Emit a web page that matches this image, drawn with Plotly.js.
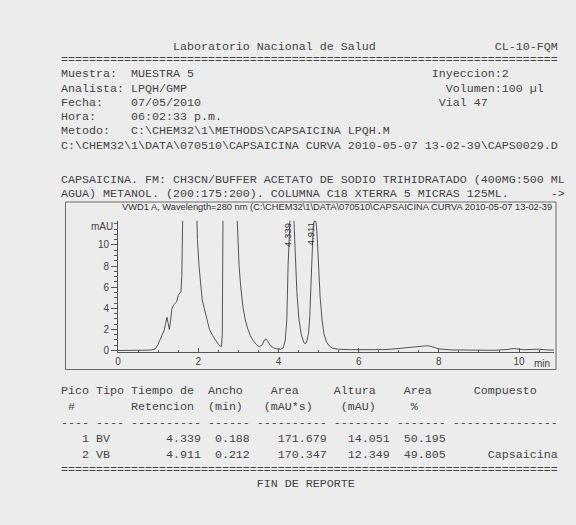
<!DOCTYPE html>
<html>
<head>
<meta charset="utf-8">
<script src="https://cdn.plot.ly/plotly-3.0.1.min.js"></script>
<style>
html,body{margin:0;padding:0;background:#ececec;}
#chart{width:576px;height:525px;}
</style>
</head>
<body>
<div id="chart"></div>
<script>
// ---------------- DATA ----------------
const reportTitle = "Laboratorio Nacional de Salud";
const reportCode = "CL-10-FQM";
const infoLabels = ["Muestra:", "Analista:", "Fecha:", "Hora:", "Metodo:"];
const infoValues = ["MUESTRA 5", "LPQH/GMP", "07/05/2010", "06:02:33 p.m.", "C:\\CHEM32\\1\\METHODS\\CAPSAICINA LPQH.M"];
const infoRight = ["Inyeccion:2", "Volumen:100 µl", "Vial 47", "", ""];
const dataFile = "C:\\CHEM32\\1\\DATA\\070510\\CAPSAICINA CURVA 2010-05-07 13-02-39\\CAPS0029.D";
const methodNote1 = "CAPSAICINA. FM: CH3CN/BUFFER ACETATO DE SODIO TRIHIDRATADO (400MG:500 ML";
const methodNote2 = "AGUA) METANOL. (200:175:200). COLUMNA C18 XTERRA 5 MICRAS 125ML.";
const chartTitle = "VWD1 A, Wavelength=280 nm (C:\\CHEM32\\1\\DATA\\070510\\CAPSAICINA CURVA 2010-05-07 13-02-39";

// chromatogram (time in min, signal in mAU)
const timeMin = [0.00,0.30,0.60,0.80,0.90,0.95,1.00,1.05,1.10,1.15,1.19,1.22,1.25,1.28,1.31,1.34,1.38,1.42,1.46,1.50,1.54,1.57,
  1.59,1.61,1.63,1.75,1.90,1.95,1.98,2.02,2.06,2.10,2.15,2.21,2.28,2.36,2.44,2.50,2.55,2.58,2.60,2.62,2.75,2.92,2.97,
  3.02,3.06,3.12,3.18,3.24,3.30,3.36,3.44,3.52,3.60,3.65,3.69,3.74,3.80,3.88,3.96,4.05,4.12,4.17,4.21,4.24,4.27,4.30,
  4.339,4.37,4.39,4.42,4.46,4.51,4.57,4.63,4.67,4.71,4.75,4.78,4.81,4.84,4.87,4.911,4.94,4.97,5.00,5.04,5.09,5.14,5.20,
  5.27,5.35,5.50,5.80,6.10,6.40,6.50,6.60,6.80,7.00,7.30,7.50,7.70,7.80,7.90,8.00,8.30,8.60,9.00,9.40,9.70,9.85,9.95,
  10.10,10.30,10.50,10.70,10.87];
const signalMAU = [0.00,0.00,0.01,0.04,0.10,0.25,0.60,1.00,1.40,1.90,2.60,3.15,2.60,2.00,2.80,3.90,4.30,4.50,4.60,5.20,5.50,5.60,
  7.00,11.0,15.0,45.0,24.0,13.0,10.5,8.0,6.0,4.8,4.0,3.0,2.0,1.4,0.9,0.6,0.42,0.40,1.5,14.0,40.0,18.0,12.5,
  8.0,6.0,4.0,2.8,2.0,1.4,1.0,0.6,0.35,0.55,1.00,1.10,0.85,0.45,0.25,0.15,0.12,0.25,1.0,3.0,8.0,11.8,13.5,
  14.05,13.4,12.0,9.0,5.5,3.0,1.5,0.8,0.62,0.9,1.6,3.2,6.5,10.5,12.0,12.35,12.1,10.5,8.0,5.0,2.8,1.5,0.8,
  0.42,0.22,0.12,0.08,0.05,0.08,0.12,0.08,0.12,0.18,0.28,0.35,0.45,0.40,0.25,0.15,0.06,0.03,0.02,0.02,0.10,0.18,0.15,
  0.08,0.10,0.12,0.05,0.05];

// integration results
const peakNo = [1, 2];
const peakType = ["BV", "VB"];
const retTime = [4.339, 4.911];
const peakWidth = [0.188, 0.212];
const peakArea = [171.679, 170.347];
const peakHeight = [14.051, 12.349];
const areaPct = [50.195, 49.805];
const compound = ["", "Capsaicina"];

const xTicks = [0, 2, 4, 6, 8, 10];
const yTicks = [0, 2, 4, 6, 8, 10];

// ---------------- LAYOUT HELPERS ----------------
const W = 576, H = 525;
const NB = "\u00A0";
const CW = 7.0;           // monospace char width (px)
const X0 = 58.5;          // left text margin (px)
const MONO = "Liberation Mono, Courier New, monospace";
const SANS = "Liberation Sans, Arial, sans-serif";
const TXT = "#444444";

function compose(parts) {           // parts: [col, text, align('l'|'r')]
  let arr = [];
  parts.forEach(([col, t, al]) => {
    const s = String(t);
    const start = al === 'r' ? col - s.length + 1 : col;
    while (arr.length < start + s.length) arr.push(' ');
    for (let i = 0; i < s.length; i++) arr[start + i] = s[i];
  });
  while (arr.length && arr[arr.length - 1] === ' ') arr.pop();
  return arr.join('').replace(/ /g, NB);
}
const px = v => v / W;
const py = v => 1 - v / H;

const annotations = [];
function line(text, yPx, col) {
  annotations.push({
    xref: 'paper', yref: 'paper', x: px(X0 + (col || 0) * CW), y: py(yPx),
    xanchor: 'left', yanchor: 'middle', showarrow: false, text: text,
    font: {family: MONO, size: CW / 0.6, color: TXT}
  });
}

// header
line(compose([[16, reportTitle], [62, reportCode]]), 47);
line("=".repeat(71), 60);
const infoY = [74, 88.5, 103, 117, 131];
const rightCols = [53, 55, 54, 0, 0];
infoLabels.forEach((lab, i) => {
  const parts = [[0, lab], [10, infoValues[i]]];
  if (infoRight[i]) parts.push([rightCols[i], infoRight[i]]);
  line(compose(parts), infoY[i]);
});
line(compose([[0, dataFile]]), 145.5);
line(compose([[0, methodNote1]]), 180);
line(compose([[0, methodNote2], [70, "->"]]), 194);

// table
const tY = [391, 407, 423, 439, 455, 470, 484];
line(compose([[0,"Pico"],[5,"Tipo"],[10,"Tiempo de"],[21,"Ancho"],[30,"Area"],[39,"Altura"],[49,"Area"],[59,"Compuesto"]]), tY[0]);
line(compose([[1,"#"],[10,"Retencion"],[21,"(min)"],[29,"(mAU*s)"],[40,"(mAU)"],[50,"%"]]), tY[1]);
line(compose([[0,"----"],[5,"----"],[10,"-".repeat(10)],[21,"-".repeat(6)],[28,"-".repeat(10)],[39,"-".repeat(8)],[48,"-".repeat(7)],[56,"-".repeat(15)]]), tY[2]);
peakNo.forEach((n, i) => {
  line(compose([[3, n, 'r'], [5, peakType[i]], [19, retTime[i].toFixed(3), 'r'], [26, peakWidth[i].toFixed(3), 'r'],
    [37, peakArea[i].toFixed(3), 'r'], [46, peakHeight[i].toFixed(3), 'r'], [54, areaPct[i].toFixed(3), 'r'],
    [70, compound[i], 'r']]), tY[3 + i]);
});
line("=".repeat(71), tY[5]);
line(compose([[28, "FIN DE REPORTE"]]), tY[6]);

// chart geometry (px)
const plotL = 118, plotR = 554, plotTop = 220.7, plotBot = 352.1;
const xMax = 10.87, yMin = -0.15, yMax = 12.3;

// chart texts
annotations.push({xref:'paper', yref:'paper', x: px(120), y: py(207.5), xanchor:'left', yanchor:'middle', showarrow:false,
  text: chartTitle, font:{family: SANS, size: 9.3, color: '#333'}});
annotations.push({xref:'paper', yref:'paper', x: px(102), y: py(227), xanchor:'center', yanchor:'middle', showarrow:false,
  text: 'mAU', font:{family: SANS, size: 10, color: '#444'}});
annotations.push({xref:'paper', yref:'paper', x: px(552), y: py(363), xanchor:'right', yanchor:'middle', showarrow:false,
  text: 'min', font:{family: SANS, size: 10, color: '#444'}});
retTime.forEach(t => {
  annotations.push({xref:'x', yref:'paper', x: t - 0.12, y: py(plotTop), xanchor:'center', yanchor:'top', showarrow:false,
    textangle: -90, text: t.toFixed(3), font:{family: SANS, size: 9.6, color: '#333'}});
});

const shapes = [{type:'rect', xref:'paper', yref:'paper', x0: px(65.5), x1: px(556), y0: py(369.5), y1: py(202),
  line:{color:'#6a6a6a', width:1}}];

const trace = {x: timeMin, y: signalMAU, type:'scatter', mode:'lines', line:{color:'#555', width:1}, hoverinfo:'skip'};

const axisFont = {family: SANS, size: 10, color: '#444'};
const layout = {
  width: W, height: H, margin: {l:0, r:0, t:0, b:0}, showlegend: false,
  paper_bgcolor: '#ececec', plot_bgcolor: 'rgba(0,0,0,0)',
  xaxis: {domain: [px(plotL), px(plotR)], range: [0, xMax], tickvals: xTicks, ticks: 'inside', ticklen: 4,
    tickcolor: '#555', showline: true, linecolor: '#555', linewidth: 1, showgrid: false, zeroline: false,
    tickfont: axisFont, minor: {dtick: 0.5, tick0: 0, ticks: 'inside', ticklen: 2, tickcolor: '#555'}},
  yaxis: {domain: [1 - plotBot / H, 1 - plotTop / H], range: [yMin, yMax], tickvals: yTicks, ticks: 'outside', ticklen: 6,
    tickcolor: '#555', showline: true, linecolor: '#555', linewidth: 1, showgrid: false, zeroline: false,
    tickfont: axisFont, minor: {dtick: 0.5, tick0: 0, ticks: 'outside', ticklen: 3, tickcolor: '#555'}},
  annotations: annotations, shapes: shapes
};
Plotly.newPlot('chart', [trace], layout, {staticPlot: true, displayModeBar: false});
</script>
</body>
</html>
